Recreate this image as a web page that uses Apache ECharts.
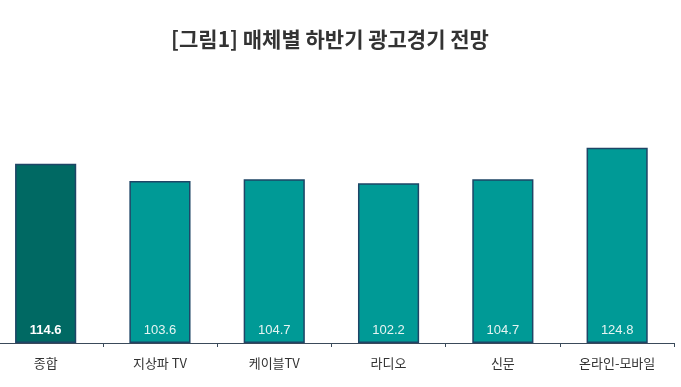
<!DOCTYPE html>
<html><head><meta charset="utf-8">
<script src="https://cdn.jsdelivr.net/npm/echarts@6/dist/echarts.min.js"></script>
<style>html,body{margin:0;padding:0;background:#fff;overflow:hidden}#c{width:693px;height:387px;margin-left:-12px}</style>
</head><body><div id="c"></div>
<script>
const categories = ['종합', '지상파 TV', '케이블TV', '라디오', '신문', '온라인-모바일'];
const values = [114.6, 103.6, 104.7, 102.2, 104.7, 124.8];
const titleText = '[그림1] 매체별 하반기 광고경기 전망';

const chart = echarts.init(document.getElementById('c'));
chart.setOption({
  animation: false,
  title: {
    text: titleText, left: 337, top: 24, textAlign: 'center',
    textStyle: {fontFamily: 'Noto Sans CJK KR', fontSize: 21, fontWeight: 'bold', color: '#333'}
  },
  grid: {left: 0.5, right: 6.7, top: 124, bottom: 44, containLabel: false},
  xAxis: {
    type: 'category', data: categories,
    axisLine: {lineStyle: {color: '#3a4a5a', width: 1}},
    axisTick: {show: true, length: 4, inside: false, lineStyle: {color: '#3a4a5a'}},
    axisLabel: {fontFamily: 'Noto Sans CJK KR', fontSize: 13, color: '#333', margin: 14}
  },
  yAxis: {type: 'value', min: 0, max: 140, show: false, splitLine: {show: false}},
  series: [{
    type: 'bar', barWidth: '53.5%',
    data: values.map((v, i) => ({
      value: v,
      itemStyle: {color: i === 0 ? '#006963' : '#009a96'},
      label: i === 0 ? {fontWeight: 'bold', color: '#ffffff'} : {}
    })),
    itemStyle: {borderColor: '#1e4566', borderWidth: 1.5},
    label: {
      show: true, position: 'insideBottom', distance: 6,
      fontFamily: 'Arial, Liberation Sans', fontSize: 13, color: '#e6f4f2',
      formatter: p => p.value.toFixed(1)
    }
  }]
});
</script></body></html>
